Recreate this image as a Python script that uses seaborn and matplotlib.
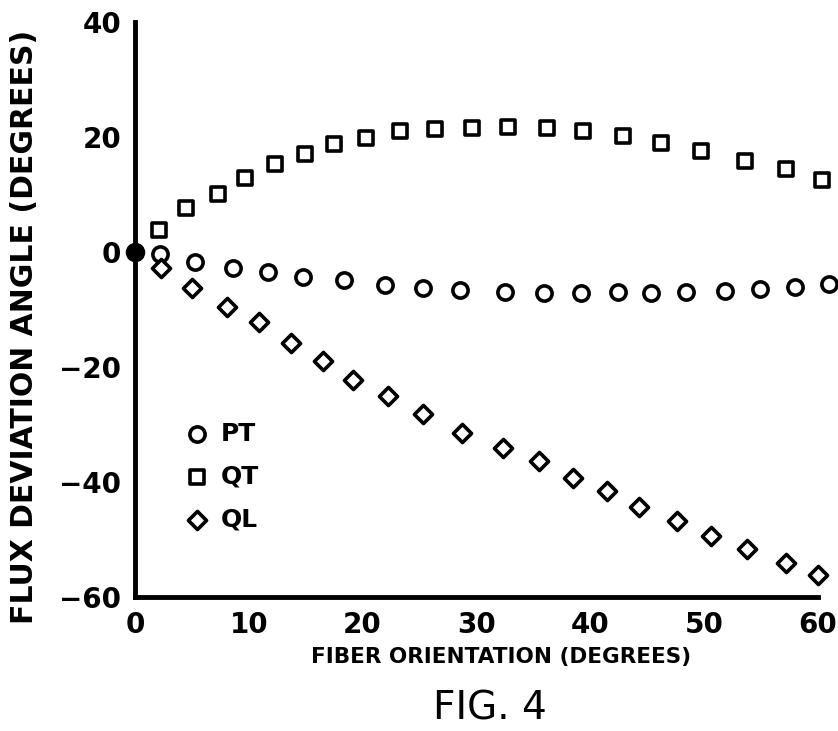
import numpy as np
import pandas as pd
import matplotlib
matplotlib.use("Agg")
import matplotlib.pyplot as plt
import seaborn as sns

# -----------------------------
# Data
# -----------------------------
pt_x = [2.2, 5.3, 8.6, 11.7, 14.8, 18.4, 22.0, 25.3, 28.6, 32.5,
        35.9, 39.2, 42.4, 45.3, 48.4, 51.8, 54.9, 58.0, 61.0]
pt_y = [-0.4, -1.8, -2.8, -3.5, -4.3, -4.8, -5.7, -6.2, -6.6, -6.9,
        -7.1, -7.2, -7.0, -7.1, -7.0, -6.8, -6.5, -6.1, -5.6]

qt_x = [2.1, 4.5, 7.3, 9.7, 12.3, 14.9, 17.5, 20.3, 23.3, 26.4,
        29.6, 32.8, 36.2, 39.4, 42.9, 46.2, 49.7, 53.6, 57.2, 60.4]
qt_y = [3.8, 7.7, 10.1, 12.8, 15.3, 17.1, 18.8, 19.9, 21.1, 21.4,
        21.5, 21.7, 21.5, 21.1, 20.1, 18.9, 17.5, 15.9, 14.5, 12.5]

ql_x = [2.3, 5.0, 8.1, 10.9, 13.7, 16.5, 19.2, 22.2, 25.3, 28.7,
        32.3, 35.5, 38.5, 41.5, 44.3, 47.6, 50.6, 53.8, 57.2, 60.0]
ql_y = [-2.8, -6.3, -9.6, -12.2, -15.8, -18.9, -22.2, -25.1, -28.1, -31.5,
        -34.1, -36.4, -39.3, -41.6, -44.3, -46.7, -49.4, -51.6, -54.1, -56.2]

series = ["PT", "QT", "QL"]
x_ticks = [0, 10, 20, 30, 40, 50, 60]
y_ticks = [-60, -40, -20, 0, 20, 40]

df = pd.concat([
    pd.DataFrame({"x": pt_x, "y": pt_y, "series": "PT"}),
    pd.DataFrame({"x": qt_x, "y": qt_y, "series": "QT"}),
    pd.DataFrame({"x": ql_x, "y": ql_y, "series": "QL"}),
])

# -----------------------------
# Plot
# -----------------------------
sns.set_style("white")
plt.rcParams["font.family"] = ["DejaVu Sans"]
plt.rcParams["text.color"] = "black"
plt.rcParams["axes.labelcolor"] = "black"

fig = plt.figure(figsize=(8.38, 7.31), dpi=100)
ax = fig.add_axes([0.161, 0.183, 0.815, 0.787])

markers = {"PT": "o", "QT": "s", "QL": "D"}
sizes = {"PT": 120, "QT": 110, "QL": 85}

for name in series:
    sns.scatterplot(
        data=df[df["series"] == name],
        x="x", y="y",
        marker=markers[name],
        s=sizes[name],
        facecolor="white",
        edgecolor="black",
        linewidth=2.6,
        label=name,
        clip_on=False,
        zorder=3,
        ax=ax,
    )

# origin dot
ax.scatter([0], [0], s=170, color="black", clip_on=False, zorder=5)

ax.set_xlim(0, 60)
ax.set_ylim(-60, 40)
ax.set_xticks(x_ticks)
ax.set_yticks(y_ticks)
ax.set_yticklabels([str(v).replace("-", "\u2212") for v in y_ticks])

for side in ["top", "right"]:
    ax.spines[side].set_visible(False)
for side in ["left", "bottom"]:
    ax.spines[side].set_linewidth(3.5)
    ax.spines[side].set_color("black")

ax.tick_params(direction="inout", length=14, width=2, colors="black",
               labelsize=20, pad=3)
for lab in ax.get_xticklabels() + ax.get_yticklabels():
    lab.set_fontweight("bold")

ax.set_xlabel("FIBER ORIENTATION (DEGREES)", fontsize=15.5, fontweight="bold",
              va="center")
ax.xaxis.set_label_coords(0.536, -0.104)
ax.set_ylabel("FLUX DEVIATION ANGLE (DEGREES)", fontsize=21.5, fontweight="bold",
              va="center")
ax.yaxis.set_label_coords(-0.161, 0.47)

leg = ax.legend(
    loc="center left",
    bbox_to_anchor=(0.072, 0.21),
    frameon=False,
    prop={"size": 18, "weight": "bold"},
    handlelength=1.0,
    handletextpad=0.45,
    labelspacing=0.75,
    borderaxespad=0,
    borderpad=0,
)

fig.text(0.584, 0.031, "FIG. 4", fontsize=28, ha="center", va="center")

fig.savefig("out.png", dpi=100)
plt.close(fig)
